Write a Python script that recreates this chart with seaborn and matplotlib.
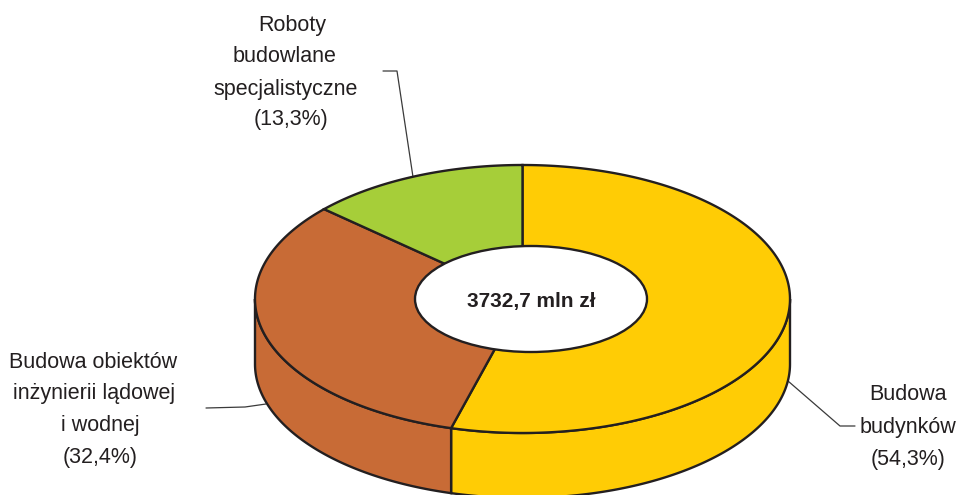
import numpy as np
import matplotlib
matplotlib.use('Agg')
import matplotlib.pyplot as plt
from matplotlib.patches import Ellipse
import seaborn as sns

# shares in percent, clockwise from the top
shares = [54.3, 32.4, 13.3]
colors = ['#FFCC05', '#C86B36', '#A6CE39']
total_label = '3732,7 mln zł'

label_lines = [
    ['Budowa', 'budynków', '(54,3%)'],
    ['Budowa obiektów', 'inżynierii lądowej', 'i wodnej', '(32,4%)'],
    ['Roboty', 'budowlane', 'specjalistyczne', '(13,3%)'],
]
label_x = [
    [908, 908, 908],
    [93, 94, 100, 100],
    [292, 285, 286, 291],
]
label_y = [
    [395, 428, 459],
    [362, 394, 426, 457],
    [26, 57, 89, 120],
]
leaders = [
    ([788, 840, 855], [381, 426, 426]),
    ([206, 245, 266], [408, 407, 404]),
    ([383, 397, 413], [71, 71, 177]),
]

EDGE = '#231F20'
CX, CY, RX, RY = 522.5, 299, 267.5, 134
DEPTH = 65


def arc(t0, t1):
    t = np.radians(np.linspace(t0, t1, 200))
    return CX + RX * np.sin(t), CY - RY * np.cos(t)


sns.set_theme(style='white')
plt.rcParams['font.family'] = ['Liberation Sans', 'DejaVu Sans']

fig, ax = plt.subplots(figsize=(9.6, 4.95), dpi=100)
ax.set_position([0, 0, 1, 1])
ax.set_xlim(0, 960)
ax.set_ylim(495, 0)
ax.axis('off')

angles = np.concatenate([[0], np.cumsum(shares) * 3.6])

# side wall, only the front half of the ring shows (90 to 270 degrees)
for i, color in enumerate(colors):
    a0, a1 = max(angles[i], 90), min(angles[i + 1], 270)
    if a0 >= a1:
        continue
    x, y = arc(a0, a1)
    ax.fill(np.concatenate([x, x[::-1]]), np.concatenate([y, y[::-1] + DEPTH]),
            facecolor=color, edgecolor=EDGE, linewidth=1.7, zorder=2)

# top face
for i, color in enumerate(colors):
    x, y = arc(angles[i], angles[i + 1])
    ax.fill(np.append(x, CX), np.append(y, CY), facecolor=color,
            edgecolor=EDGE, linewidth=1.7, zorder=3)

# hole sits a bit right of the pie centre
hole = Ellipse((531, 299), 232, 106, facecolor='white', edgecolor=EDGE,
               linewidth=1.7, zorder=4)
ax.add_patch(hole)
ax.text(531, 301, total_label, ha='center', va='center', fontsize=15,
        fontweight='bold', color=EDGE, zorder=5)

for lx, ly in leaders:
    ax.plot(lx, ly, color='#3A3A3A', linewidth=0.9, zorder=1)

for lines, xs, ys in zip(label_lines, label_x, label_y):
    for line, x, y in zip(lines, xs, ys):
        ax.text(x, y, line, ha='center', va='center', fontsize=15.5, color=EDGE)

fig.savefig('out.png', dpi=100)
plt.close(fig)
